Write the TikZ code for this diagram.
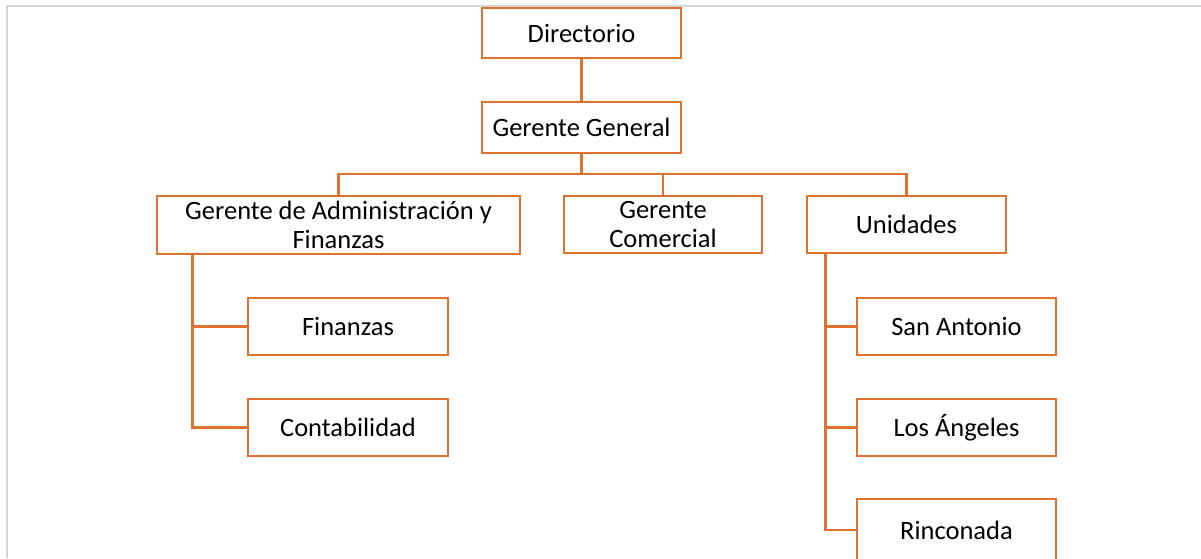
\documentclass[tikz,border=0pt]{standalone}
\usepackage{fontspec}
\setmainfont{Carlito}
\definecolor{naranja}{RGB}{222,114,46}
\definecolor{marco}{RGB}{212,212,212}
\begin{document}
\begin{tikzpicture}[x=1pt,y=-1pt,
	caja/.style={draw=naranja,line width=2.8pt,minimum width=199pt,minimum height=57pt,
		inner sep=0pt,align=center,font=\fontsize{26.5}{29}\selectfont},
	linea/.style={naranja,line width=2.8pt}]
	\useasboundingbox (0,0) rectangle (1201,558);
	\draw[marco,line width=2pt] (6.5,558) -- (6.5,6) -- (1201,6);
	\node[caja,minimum height=50pt] (dir) at (581.5,33) {Directorio};
	\node[caja,minimum height=51pt] (gg) at (581.5,127.5) {Gerente General};
	\node[caja,minimum width=363pt,minimum height=58pt] (gaf) at (338.5,225)
		{Gerente de Administración y\\Finanzas};
	\node[caja,minimum width=198pt] (gc) at (663,224.5) {Gerente\\Comercial};
	\node[caja] (uni) at (906.5,224.5) {Unidades};
	\node[caja,minimum width=200pt] (fin) at (348,326.5) {Finanzas};
	\node[caja,minimum width=200pt] (con) at (348,427.5) {Contabilidad};
	\node[caja] (sa) at (956.5,326.5) {San Antonio};
	\node[caja] (la) at (956.5,427.5) {Los Ángeles};
	\node[caja,minimum height=62pt] (rin) at (956.5,530) {Rinconada};
	\coordinate (bus) at (581.5,174);
	\draw[linea] (dir) -- (gg);
	\draw[linea] (gg) -- (bus);
	\draw[linea] (gaf.north) |- (bus) -| (uni.north);
	\draw[linea] (gc.north) -- (gc.north |- bus);
	\draw[linea] ([xshift=37pt]gaf.south west) |- (fin.west);
	\draw[linea] ([xshift=37pt]gaf.south west) |- (con.west);
	\draw[linea] ([xshift=20pt]uni.south west) |- (sa.west);
	\draw[linea] ([xshift=20pt]uni.south west) |- (la.west);
	\draw[linea] ([xshift=20pt]uni.south west) |- (rin.west);
\end{tikzpicture}
\end{document}
